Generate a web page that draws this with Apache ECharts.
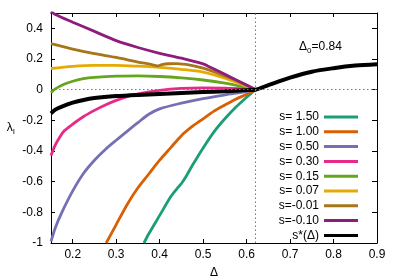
<!DOCTYPE html>
<html>
<head>
<meta charset="utf-8">
<script src="https://cdn.jsdelivr.net/npm/echarts@6/dist/echarts.min.js"></script>
<style>html,body{margin:0;padding:0;background:#fff}#c{width:399px;height:278px}</style>
</head>
<body>
<div id="c"></div>
<script>
// ---- data ----
var xTicks = [0.2, 0.3, 0.4, 0.5, 0.6, 0.7, 0.8, 0.9];
var yTicks = [-1, -0.8, -0.6, -0.4, -0.2, 0, 0.2, 0.4];
var deltaC = 0.62;

var names = ['s= 1.50', 's= 1.00', 's= 0.50', 's= 0.30', 's= 0.15', 's= 0.07', 's=-0.01', 's=-0.10', 's*(Δ)'];

var x150 = [0.364, 0.375, 0.4, 0.425, 0.44, 0.45, 0.46, 0.475, 0.5, 0.525, 0.55, 0.575, 0.6, 0.62];
var y150 = [-1.0, -0.94, -0.82, -0.70, -0.645, -0.612, -0.57, -0.495, -0.38, -0.275, -0.19, -0.115, -0.05, 0];

var x100 = [0.277, 0.3, 0.325, 0.35, 0.375, 0.4, 0.425, 0.45, 0.475, 0.5, 0.525, 0.55, 0.575, 0.6, 0.62];
var y100 = [-1.0, -0.88, -0.75, -0.64, -0.55, -0.46, -0.38, -0.30, -0.24, -0.19, -0.14, -0.10, -0.062, -0.03, 0];

var x050 = [0.15, 0.16, 0.175, 0.2, 0.225, 0.25, 0.275, 0.3, 0.325, 0.35, 0.375, 0.4, 0.45, 0.5, 0.55, 0.6, 0.62];
var y050 = [-0.99, -0.9, -0.8, -0.66, -0.545, -0.46, -0.39, -0.33, -0.272, -0.215, -0.16, -0.125, -0.088, -0.058, -0.034, -0.012, 0];

var x030 = [0.15, 0.16, 0.17, 0.18, 0.2, 0.225, 0.25, 0.275, 0.3, 0.325, 0.35, 0.4, 0.45, 0.5, 0.55, 0.6, 0.62];
var y030 = [-0.43, -0.36, -0.31, -0.27, -0.225, -0.175, -0.135, -0.10, -0.07, -0.046, -0.028, -0.005, 0.008, 0.012, 0.01, 0.004, 0];

var x015 = [0.15, 0.16, 0.18, 0.2, 0.225, 0.25, 0.3, 0.35, 0.4, 0.45, 0.5, 0.55, 0.6, 0.62];
var y015 = [-0.02, 0.005, 0.035, 0.055, 0.072, 0.08, 0.088, 0.09, 0.086, 0.077, 0.063, 0.042, 0.013, 0];

var x007 = [0.15, 0.2, 0.25, 0.3, 0.35, 0.4, 0.45, 0.5, 0.55, 0.6, 0.62];
var y007 = [0.138, 0.152, 0.158, 0.158, 0.153, 0.145, 0.133, 0.115, 0.075, 0.022, 0];

var xm001 = [0.15, 0.2, 0.25, 0.3, 0.35, 0.38, 0.395, 0.405, 0.42, 0.44, 0.47, 0.5, 0.55, 0.58, 0.62];
var ym001 = [0.30, 0.265, 0.235, 0.21, 0.18, 0.165, 0.155, 0.163, 0.169, 0.17, 0.16, 0.14, 0.09, 0.055, 0];

var xm010 = [0.15, 0.16, 0.2, 0.25, 0.3, 0.35, 0.4, 0.45, 0.5, 0.51, 0.55, 0.6, 0.62];
var ym010 = [0.51, 0.49, 0.44, 0.38, 0.32, 0.275, 0.237, 0.205, 0.168, 0.155, 0.10, 0.03, 0];

var xStar = [0.15, 0.16, 0.175, 0.2, 0.225, 0.25, 0.3, 0.35, 0.4, 0.45, 0.5, 0.55, 0.6, 0.62, 0.65, 0.7, 0.75, 0.8, 0.85, 0.9];
var yStar = [-0.155, -0.13, -0.11, -0.085, -0.067, -0.055, -0.042, -0.034, -0.028, -0.022, -0.016, -0.01, -0.003, 0, 0.03, 0.078, 0.117, 0.14, 0.157, 0.166];

var colors = ['#1b9e77', '#d95f02', '#7570b3', '#e7298a', '#66a61e', '#e6ab02', '#a6761d', '#8e1c7c', '#000000'];
var xs = [x150, x100, x050, x030, x015, x007, xm001, xm010, xStar];
var ys = [y150, y100, y050, y030, y015, y007, ym001, ym010, yStar];

function pairs(a, b) { return a.map(function (v, i) { return [v, b[i]]; }); }

var FONT = '"Liberation Sans", Arial, sans-serif';

var series = names.map(function (n, i) {
  return {
    name: n, type: 'line', xAxisIndex: 0, yAxisIndex: 0,
    data: pairs(xs[i], ys[i]), showSymbol: false, symbol: 'none',
    smooth: 0.3, clip: true,
    lineStyle: { color: colors[i], width: i === 8 ? 4 : 2.8 },
    itemStyle: { color: colors[i] }
  };
});
series[0].markLine = {
  silent: true, symbol: 'none', label: { show: false },
  lineStyle: { color: '#777', type: [1.5, 2.5], width: 1 },
  data: [{ xAxis: deltaC }, { yAxis: 0 }]
};

var chart = echarts.init(document.getElementById('c'), null, { renderer: 'canvas' });
chart.setOption({
  backgroundColor: '#fff',
  animation: false,
  textStyle: { fontFamily: FONT },
  grid: { left: 51, right: 22, top: 13, bottom: 35, containLabel: false, outerBoundsMode: 'none' },
  xAxis: [{
    type: 'value', min: 0.15, max: 0.9, position: 'bottom',
    name: 'Δ', nameLocation: 'middle', nameGap: 24,
    nameTextStyle: { color: '#000', fontSize: 12, fontFamily: FONT },
    axisLine: { show: true, onZero: false, lineStyle: { color: '#000', width: 1 } },
    axisTick: { show: true, inside: true, length: 4, customValues: xTicks, lineStyle: { color: '#000' } },
    axisLabel: { customValues: xTicks, color: '#000', fontSize: 12, margin: 6, fontFamily: FONT },
    splitLine: { show: false }
  }, {
    type: 'value', min: 0.15, max: 0.9, position: 'top',
    axisLine: { show: true, onZero: false, lineStyle: { color: '#000', width: 1 } },
    axisTick: { show: true, inside: true, length: 4, customValues: xTicks, lineStyle: { color: '#000' } },
    axisLabel: { show: false },
    splitLine: { show: false }
  }],
  yAxis: [{
    type: 'value', min: -1, max: 0.5, position: 'left',
    name: '{a|λ}{b|I}', nameLocation: 'middle', nameGap: 36, nameRotate: 0,
    nameTextStyle: { rich: {
      a: { fontSize: 12, color: '#000', fontFamily: FONT },
      b: { fontSize: 8, color: '#000', fontFamily: FONT, padding: [7, 0, 0, 0] }
    } },
    axisLine: { show: true, onZero: false, lineStyle: { color: '#000', width: 1 } },
    axisTick: { show: true, inside: true, length: 4, customValues: yTicks, lineStyle: { color: '#000' } },
    axisLabel: { customValues: yTicks, color: '#000', fontSize: 12, margin: 8, fontFamily: FONT },
    splitLine: { show: false }
  }, {
    type: 'value', min: -1, max: 0.5, position: 'right',
    axisLine: { show: true, onZero: false, lineStyle: { color: '#000', width: 1 } },
    axisTick: { show: true, inside: true, length: 5, customValues: yTicks, lineStyle: { color: '#000' } },
    axisLabel: { show: false },
    splitLine: { show: false }
  }],
  legend: {
    orient: 'vertical', align: 'right', right: 36, top: 105,
    itemWidth: 34, itemHeight: 3, itemGap: 0.8, icon: 'rect',
    data: names.map(function (n, i) { return { name: n, itemStyle: { color: colors[i] } }; }),
    textStyle: { color: '#000', fontSize: 12, fontFamily: FONT, lineHeight: 14 },
    selectedMode: false
  },
  graphic: [{
    type: 'text', left: 299, top: 41,
    style: {
      text: '{a|Δ}{b|0}{a|=0.84}',
      rich: {
        a: { fontSize: 12, fill: '#000', fontFamily: FONT },
        b: { fontSize: 8, fill: '#000', fontFamily: FONT, padding: [7, 0, 0, 0] }
      }
    }
  }],
  series: series
});
</script>
</body>
</html>
